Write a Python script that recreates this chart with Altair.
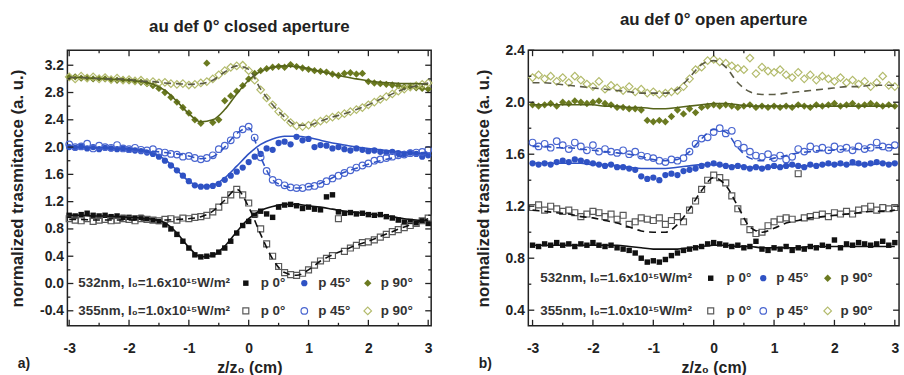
import altair as alt
import pandas as pd

FONT = "Liberation Sans"

# ---------------- data ----------------
X = [-3.0, -2.9, -2.8, -2.7, -2.6, -2.5, -2.4, -2.3, -2.2, -2.1, -2.0, -1.9, -1.8, -1.7, -1.6, -1.5,
     -1.4, -1.3, -1.2, -1.1, -1.0, -0.9, -0.8, -0.7, -0.6, -0.5, -0.4, -0.3, -0.2, -0.1, 0.0, 0.1,
     0.2, 0.3, 0.4, 0.5, 0.6, 0.7, 0.8, 0.9, 1.0, 1.1, 1.2, 1.3, 1.4, 1.5, 1.6, 1.7, 1.8, 1.9, 2.0,
     2.1, 2.2, 2.3, 2.4, 2.5, 2.6, 2.7, 2.8, 2.9, 3.0]
XF = [-3.0, -2.8, -2.6, -2.4, -2.2, -2.0, -1.8, -1.6, -1.4, -1.2, -1.0, -0.8, -0.6, -0.4, -0.2, 0.0,
      0.2, 0.4, 0.6, 0.8, 1.0, 1.2, 1.4, 1.6, 1.8, 2.0, 2.2, 2.4, 2.6, 2.8, 3.0]

# closed aperture (panel a)
CA_532_P0 = [1.00, 0.99, 1.01, 1.03, 1.00, 0.99, 1.00, 0.98, 0.99, 0.97, 0.97, 0.96, 0.97, 0.95, 0.93, 0.91,
             0.86, 0.80, 0.72, 0.62, 0.52, 0.42, 0.39, 0.40, 0.42, 0.46, 0.52, 0.62, 0.74, 0.85, 0.91, 1.00,
             1.06, 1.02, 0.97, 1.12, 1.15, 1.16, 1.14, 1.10, 1.12, 1.09, 1.08, 1.27, 1.30, 1.05, 1.03, 1.04,
             1.02, 1.03, 1.01, 1.00, 1.01, 0.98, 0.96, 0.93, 0.90, 0.91, 0.89, 0.92, 0.88]
CA_355_P0 = [0.95, 0.93, 0.92, 0.95, 0.91, 0.93, 0.94, 0.92, 0.93, 0.95, 0.94, 0.92, 0.95, 0.94, 0.93, 0.92,
             0.94, 0.95, 0.93, 0.96, 0.95, 0.97, 0.98, 1.00, 1.05, 1.12, 1.22, 1.30, 1.38, 1.30, 1.18, 1.02,
             0.80, 0.58, 0.40, 0.25, 0.16, 0.13, 0.12, 0.15, 0.20, 0.27, 0.33, 0.37, 0.41, 0.95, 0.47, 0.52,
             0.56, 0.60, 0.61, 0.64, 0.68, 0.72, 0.76, 0.79, 0.82, 0.85, 0.88, 0.92, 0.96]
CA_532_P45 = [2.00, 1.99, 2.01, 1.98, 2.00, 1.97, 1.99, 1.98, 1.97, 1.98, 1.96, 1.95, 1.94, 1.92, 1.90, 1.86,
              1.80, 1.73, 1.66, 1.58, 1.50, 1.44, 1.42, 1.42, 1.43, 1.46, 1.52, 1.58, 1.64, 1.70, 1.78, 1.86,
              1.90, 1.98, 1.96, 2.06, 2.08, 2.04, 2.15, 2.10, 2.12, 2.00, 2.03, 2.02, 1.98, 2.00, 1.97, 1.95,
              1.98, 1.96, 1.94, 1.95, 1.93, 1.92, 1.93, 1.91, 1.90, 1.92, 1.90, 1.86, 1.88]
CA_355_P45 = [2.04, 2.00, 2.01, 2.05, 1.98, 2.02, 2.00, 1.99, 2.03, 1.98, 1.97, 1.99, 1.96, 1.95, 1.97, 1.93,
              1.92, 1.90, 1.89, 1.86, 1.87, 1.84, 1.82, 1.84, 1.88, 1.97, 2.02, 2.10, 2.18, 2.26, 2.30, 2.14,
              1.85, 1.65, 1.52, 1.48, 1.44, 1.41, 1.40, 1.40, 1.42, 1.43, 1.46, 1.50, 1.54, 1.58, 1.62, 1.66,
              1.70, 1.73, 1.76, 1.80, 1.82, 1.84, 1.86, 1.88, 1.89, 1.91, 1.92, 1.93, 1.96]
CA_532_P90 = [3.02, 3.03, 3.01, 3.02, 3.00, 3.01, 3.00, 2.99, 2.98, 2.99, 2.97, 2.96, 2.95, 2.93, 2.90, 2.86,
              2.80, 2.73, 2.66, 2.58, 2.50, 2.40, 2.35, 3.23, 2.36, 2.40, 2.68, 2.75, 2.82, 2.90, 3.00, 3.08,
              3.12, 3.15, 3.17, 3.18, 3.17, 3.21, 3.18, 3.16, 3.14, 3.12, 3.11, 3.10, 3.07, 3.05, 3.08, 3.09,
              3.07, 3.08, 2.96, 2.94, 2.93, 2.92, 2.91, 2.90, 2.88, 2.89, 2.87, 2.86, 2.85]
CA_355_P90 = [3.03, 3.00, 3.04, 3.01, 3.03, 3.00, 3.02, 2.99, 3.01, 2.98, 2.99, 2.97, 2.98, 2.95, 2.96, 2.94,
              2.95, 2.93, 2.92, 2.93, 2.91, 2.92, 2.94, 2.96, 3.00, 3.06, 3.12, 3.17, 3.19, 3.20, 3.12, 2.98,
              2.84, 2.72, 2.62, 2.52, 2.44, 2.36, 2.31, 2.30, 2.32, 2.35, 2.38, 2.41, 2.44, 2.46, 2.49, 2.52,
              2.55, 2.58, 2.62, 2.66, 2.70, 2.74, 2.78, 2.82, 2.85, 2.88, 2.90, 2.92, 2.94]

CA_FIT_532_P0 = [1.00, 1.00, 0.99, 0.99, 0.98, 0.97, 0.96, 0.94, 0.89, 0.74, 0.53, 0.39, 0.41, 0.55, 0.76, 0.95,
                 1.07, 1.13, 1.16, 1.16, 1.14, 1.12, 1.09, 1.06, 1.04, 1.02, 1.00, 0.98, 0.95, 0.93, 0.92]
CA_FIT_355_P0 = [0.94, 0.94, 0.93, 0.93, 0.93, 0.93, 0.93, 0.93, 0.93, 0.94, 0.95, 0.98, 1.06, 1.22, 1.38, 1.12,
                 0.72, 0.36, 0.16, 0.12, 0.20, 0.33, 0.42, 0.49, 0.56, 0.62, 0.69, 0.76, 0.83, 0.89, 0.95]
CA_FIT_532_P45 = [2.00, 2.00, 1.99, 1.99, 1.98, 1.97, 1.95, 1.91, 1.82, 1.66, 1.50, 1.42, 1.44, 1.55, 1.72, 1.90,
                  2.04, 2.12, 2.16, 2.16, 2.14, 2.10, 2.06, 2.03, 2.00, 1.98, 1.96, 1.94, 1.92, 1.91, 1.90]
CA_FIT_355_P45 = [2.00, 2.00, 1.99, 1.99, 1.98, 1.97, 1.96, 1.94, 1.92, 1.90, 1.87, 1.83, 1.86, 2.00, 2.20, 2.28,
                  1.85, 1.52, 1.43, 1.40, 1.42, 1.47, 1.55, 1.63, 1.69, 1.75, 1.80, 1.84, 1.88, 1.91, 1.93]
CA_FIT_532_P90 = [3.02, 3.02, 3.01, 3.00, 2.99, 2.98, 2.96, 2.92, 2.83, 2.67, 2.49, 2.37, 2.40, 2.55, 2.78, 2.98,
                  3.11, 3.17, 3.19, 3.18, 3.15, 3.11, 3.07, 3.03, 3.00, 2.97, 2.95, 2.94, 2.93, 2.93, 2.92]
CA_FIT_355_P90 = [3.02, 3.02, 3.01, 3.00, 3.00, 2.99, 2.97, 2.96, 2.94, 2.93, 2.92, 2.93, 2.98, 3.10, 3.19, 3.14,
                  2.85, 2.62, 2.44, 2.32, 2.32, 2.38, 2.44, 2.49, 2.55, 2.62, 2.70, 2.78, 2.85, 2.90, 2.94]

# open aperture (panel b)
OA_532_P0 = [0.90, 0.89, 0.91, 0.90, 0.92, 0.90, 0.91, 0.89, 0.91, 0.90, 0.92, 0.90, 0.89, 0.90, 0.88, 0.87,
             0.86, 0.84, 0.80, 0.77, 0.78, 0.77, 0.79, 0.82, 0.84, 0.86, 0.87, 0.88, 0.89, 0.91, 0.92, 0.91,
             0.90, 0.89, 0.90, 0.88, 0.89, 0.93, 0.87, 0.86, 0.88, 0.87, 0.89, 0.86, 0.88, 0.87, 0.89, 0.88,
             0.90, 0.89, 0.94, 0.88, 0.91, 0.90, 0.92, 0.91, 0.90, 0.91, 0.93, 0.90, 0.92]
OA_355_P0 = [1.19, 1.21, 1.17, 1.20, 1.18, 1.16, 1.17, 1.15, 1.12, 1.14, 1.16, 1.15, 1.12, 1.14, 1.10, 1.13,
             1.06, 1.08, 1.11, 1.10, 1.09, 1.11, 1.06, 1.09, 1.12, 1.08, 1.17, 1.24, 1.33, 1.40, 1.44, 1.42,
             1.38, 1.28, 1.18, 1.08, 1.02, 0.99, 1.00, 1.05, 1.08, 1.10, 1.11, 1.10, 1.45, 1.11, 1.12, 1.13,
             1.14, 1.12, 1.15, 1.14, 1.16, 1.14, 1.17, 1.18, 1.20, 1.17, 1.19, 1.18, 1.19]
OA_532_P45 = [1.53, 1.52, 1.53, 1.52, 1.54, 1.55, 1.54, 1.56, 1.55, 1.54, 1.53, 1.52, 1.51, 1.52, 1.50, 1.50,
              1.49, 1.48, 1.43, 1.41, 1.42, 1.40, 1.44, 1.45, 1.44, 1.47, 1.48, 1.49, 1.51, 1.52, 1.53, 1.52,
              1.51, 1.50, 1.51, 1.50, 1.49, 1.50, 1.49, 1.50, 1.51, 1.50, 1.51, 1.52, 1.51, 1.50, 1.52, 1.51,
              1.52, 1.53, 1.52, 1.53, 1.52, 1.54, 1.53, 1.52, 1.53, 1.54, 1.53, 1.52, 1.53]
OA_355_P45 = [1.69, 1.66, 1.68, 1.65, 1.70, 1.67, 1.64, 1.69, 1.66, 1.63, 1.67, 1.62, 1.64, 1.62, 1.61, 1.63,
              1.60, 1.62, 1.59, 1.58, 1.57, 1.55, 1.54, 1.56, 1.55, 1.57, 1.62, 1.68, 1.72, 1.73, 1.77, 1.80,
              1.76, 1.78, 1.68, 1.65, 1.62, 1.59, 1.58, 1.60, 1.57, 1.59, 1.56, 1.58, 1.64, 1.62, 1.66, 1.64,
              1.65, 1.63, 1.66, 1.64, 1.65, 1.63, 1.66, 1.64, 1.65, 1.69, 1.66, 1.65, 1.67]
OA_532_P90 = [1.98, 1.97, 1.98, 1.99, 1.97, 2.00, 1.99, 2.01, 2.00, 1.99, 2.00, 2.01, 1.99, 1.98, 1.96, 1.96,
              1.95, 1.95, 1.94, 1.86, 1.85, 1.86, 1.85, 1.89, 1.94, 1.91, 1.95, 1.92, 1.96, 1.97, 1.98, 1.97,
              1.98, 1.97, 1.96, 1.97, 1.98, 1.96, 1.97, 1.96, 1.97, 1.96, 1.97, 1.96, 1.98, 1.97, 1.96, 1.98,
              1.97, 1.98, 1.99, 1.97, 1.98, 1.99, 1.97, 1.98, 1.99, 1.98, 1.97, 1.98, 1.97]
OA_355_P90 = [2.19, 2.21, 2.18, 2.20, 2.16, 2.19, 2.15, 2.20, 2.17, 2.14, 2.12, 2.16, 2.10, 2.13, 2.11, 2.09,
              2.12, 2.08, 2.10, 2.07, 2.08, 2.06, 2.07, 2.08, 2.09, 2.12, 2.18, 2.25, 2.27, 2.32, 2.33, 2.31,
              2.30, 2.28, 2.26, 2.25, 2.34, 2.22, 2.27, 2.24, 2.23, 2.25, 2.21, 2.19, 2.23, 2.18, 2.21, 2.17,
              2.20, 2.18, 2.16, 2.19, 2.15, 2.17, 2.14, 2.16, 2.12, 2.15, 2.20, 2.13, 2.12]

OA_FIT_532_P0 = [0.90, 0.90, 0.90, 0.90, 0.90, 0.90, 0.90, 0.90, 0.89, 0.88, 0.87, 0.87, 0.87, 0.88, 0.89, 0.90,
                 0.90, 0.89, 0.89, 0.88, 0.88, 0.88, 0.88, 0.89, 0.89, 0.89, 0.89, 0.89, 0.89, 0.89, 0.89]
OA_FIT_355_P0 = [1.17, 1.16, 1.15, 1.14, 1.12, 1.11, 1.09, 1.07, 1.04, 1.01, 1.00, 1.00, 1.06, 1.18, 1.32, 1.42,
                 1.36, 1.20, 1.04, 1.00, 1.03, 1.07, 1.09, 1.11, 1.12, 1.13, 1.14, 1.15, 1.16, 1.16, 1.17]
OA_FIT_532_P45 = [1.53, 1.53, 1.53, 1.53, 1.53, 1.52, 1.52, 1.51, 1.50, 1.49, 1.49, 1.49, 1.50, 1.51, 1.52, 1.52,
                  1.51, 1.51, 1.50, 1.50, 1.50, 1.51, 1.51, 1.51, 1.52, 1.52, 1.52, 1.52, 1.52, 1.53, 1.53]
OA_FIT_355_P45 = [1.66, 1.66, 1.65, 1.65, 1.64, 1.63, 1.62, 1.61, 1.60, 1.58, 1.56, 1.55, 1.56, 1.62, 1.72, 1.79,
                  1.77, 1.65, 1.57, 1.55, 1.57, 1.59, 1.61, 1.62, 1.63, 1.63, 1.64, 1.64, 1.65, 1.65, 1.65]
OA_FIT_532_P90 = [1.98, 1.98, 1.98, 1.98, 1.98, 1.98, 1.97, 1.97, 1.96, 1.96, 1.95, 1.95, 1.96, 1.97, 1.98, 1.99,
                  1.99, 1.98, 1.97, 1.97, 1.97, 1.97, 1.97, 1.97, 1.97, 1.97, 1.97, 1.97, 1.97, 1.97, 1.97]
OA_FIT_355_P90 = [2.15, 2.15, 2.14, 2.13, 2.12, 2.11, 2.10, 2.09, 2.08, 2.07, 2.07, 2.07, 2.10, 2.19, 2.29, 2.32,
                  2.27, 2.15, 2.08, 2.06, 2.06, 2.07, 2.08, 2.09, 2.10, 2.11, 2.12, 2.12, 2.13, 2.13, 2.13]

X_TICKS = [-3, -2, -1, 0, 1, 2, 3]
X_MINOR = [-2.5, -1.5, -0.5, 0.5, 1.5, 2.5]
CA_Y_TICKS = [-0.4, 0.0, 0.4, 0.8, 1.2, 1.6, 2.0, 2.4, 2.8, 3.2]
CA_Y_MINOR = [-0.2, 0.2, 0.6, 1.0, 1.4, 1.8, 2.2, 2.6, 3.0]
OA_Y_TICKS = [0.4, 0.8, 1.2, 1.6, 2.0, 2.4]
OA_Y_MINOR = [0.6, 1.0, 1.4, 1.8, 2.2]

TITLES = ["au def 0° closed aperture", "au def 0° open aperture"]
PANEL_TAGS = ["a)", "b)"]
ROW_LABELS = ["532nm, I\u2080=1.6x10\u00b9\u2075W/m\u00b2", "355nm, I\u2080=1.0x10\u00b9\u2075W/m\u00b2"]
ENTRY_LABELS = ["p 0°", "p 45°", "p 90°"]
X_TITLE = "z/z\u2080 (cm)"
Y_TITLE = "normalized trasmitance (a. u.)"

# ---------------- styles ----------------
BLACK = "#111111"
GRAY = "#5a5a5a"
BLUE = "#2f52c4"
BLUE_O = "#4a66d0"
OLIVE = "#6b7a20"
OLIVE_O = "#b3bb6c"
OLIVE_FIT = "#56641a"
OLIVE_DASH = "#5b5b45"

MARK_STYLE = {
    "532_p0": ("square", True, BLACK, 30),
    "355_p0": ("square", False, GRAY, 36),
    "532_p45": ("circle", True, BLUE, 40),
    "355_p45": ("circle", False, BLUE_O, 44),
    "532_p90": ("diamond", True, OLIVE, 55),
    "355_p90": ("diamond", False, OLIVE_O, 58),
}
FIT_STYLE = {
    "532_p0": (BLACK, False), "355_p0": (BLACK, True),
    "532_p45": (BLUE, False), "355_p45": (BLUE, True),
    "532_p90": (OLIVE_FIT, False), "355_p90": (OLIVE_DASH, True),
}
ORDER = ["532_p0", "532_p45", "532_p90", "355_p0", "355_p45", "355_p90"]


def neg_hyphen(fmt):
    return ("datum.value < 0 ? '-' + format(-datum.value, '%s') : format(datum.value, '%s')" % (fmt, fmt))


def panel(series, fits, xdom, ydom, yticks, yminor, W, H, title, tag, leg):
    xs = alt.Scale(domain=xdom, nice=False, zero=False)
    ys = alt.Scale(domain=ydom, nice=False, zero=False)
    xaxis = alt.Axis(values=X_TICKS, labelExpr=neg_hyphen("d"), ticks=False, domain=False, grid=False,
                     labelPadding=16, title=X_TITLE, titlePadding=4, titleFontSize=16)
    yaxis = alt.Axis(values=yticks, labelExpr=neg_hyphen(".1f"), ticks=False, domain=False, grid=False,
                     labelPadding=4, title=Y_TITLE, titlePadding=13, titleFontSize=17)
    XE = alt.X("x:Q", scale=xs, axis=xaxis)
    YE = alt.Y("y:Q", scale=ys, axis=yaxis)
    layers = []
    for key in ORDER:
        shape, filled, color, size = MARK_STYLE[key]
        df = pd.DataFrame({"x": X, "y": series[key]})
        m = alt.Chart(df).mark_point(shape=shape, filled=filled, color=color, size=size,
                                     opacity=1, strokeWidth=1.2)
        layers.append(m.encode(x=XE, y=YE))
    for key in ORDER:
        color, dashed = FIT_STYLE[key]
        df = pd.DataFrame({"x": XF, "y": fits[key]})
        kw = dict(color=color, strokeWidth=1.6, interpolate="monotone")
        if dashed:
            kw["strokeDash"] = [7, 5]
        layers.append(alt.Chart(df).mark_line(**kw).encode(x=XE, y=YE))
    # inward ticks on all four sides
    for vals, ln in ((X_TICKS, 6), (X_MINOR, 3)):
        r = alt.Chart(pd.DataFrame({"x": vals})).mark_rule(color="#222", strokeWidth=1.3)
        layers.append(r.encode(x=XE, y=alt.value(H), y2=alt.value(H - ln)))
        layers.append(r.encode(x=XE, y=alt.value(0), y2=alt.value(ln)))
    for vals, ln in ((yticks, 6), (yminor, 3)):
        r = alt.Chart(pd.DataFrame({"y": vals})).mark_rule(color="#222", strokeWidth=1.3)
        layers.append(r.encode(y=YE, x=alt.value(0), x2=alt.value(ln)))
        layers.append(r.encode(y=YE, x=alt.value(W), x2=alt.value(W - ln)))
    # legend
    tx = dict(align="left", baseline="middle", font=FONT, fontWeight="bold", fontSize=13.5, color="#333")
    row_y = leg["rows"]
    for ri, lab in enumerate(ROW_LABELS):
        layers.append(alt.Chart(pd.DataFrame({"s": [lab]})).mark_text(**tx).encode(
            x=alt.value(leg["x0"]), y=alt.value(row_y[ri]), text="s:N"))
        for ci, key in enumerate(ORDER[ri * 3:(ri + 1) * 3]):
            shape, filled, color, size = MARK_STYLE[key]
            layers.append(alt.Chart(pd.DataFrame({"s": [key]})).mark_point(
                shape=shape, filled=filled, color=color, size=size, opacity=1, strokeWidth=1.2).encode(
                x=alt.value(leg["sym"][ci]), y=alt.value(row_y[ri])))
            layers.append(alt.Chart(pd.DataFrame({"s": [ENTRY_LABELS[ci]]})).mark_text(**tx).encode(
                x=alt.value(leg["lab"][ci]), y=alt.value(row_y[ri]), text="s:N"))
    layers.append(alt.Chart(pd.DataFrame({"s": [tag]})).mark_text(
        align="left", baseline="middle", font=FONT, fontWeight="bold", fontSize=14, color="#222").encode(
        x=alt.value(-50), y=alt.value(H + 39), text="s:N"))
    return alt.layer(*layers).properties(
        width=W, height=H,
        title=alt.TitleParams(text=title, font=FONT, fontSize=17, fontWeight="bold", color="#222",
                              offset=14, anchor="middle"))


H = 278
left = panel(
    {"532_p0": CA_532_P0, "355_p0": CA_355_P0, "532_p45": CA_532_P45, "355_p45": CA_355_P45,
     "532_p90": CA_532_P90, "355_p90": CA_355_P90},
    {"532_p0": CA_FIT_532_P0, "355_p0": CA_FIT_355_P0, "532_p45": CA_FIT_532_P45,
     "355_p45": CA_FIT_355_P45, "532_p90": CA_FIT_532_P90, "355_p90": CA_FIT_355_P90},
    [-3.03, 3.05], [-0.62, 3.42], CA_Y_TICKS, CA_Y_MINOR, 367, H, TITLES[0], PANEL_TAGS[0],
    {"rows": [235, 263], "x0": 11, "sym": [180, 239, 303], "lab": [195, 253, 316]})
right = panel(
    {"532_p0": OA_532_P0, "355_p0": OA_355_P0, "532_p45": OA_532_P45, "355_p45": OA_355_P45,
     "532_p90": OA_532_P90, "355_p90": OA_355_P90},
    {"532_p0": OA_FIT_532_P0, "355_p0": OA_FIT_355_P0, "532_p45": OA_FIT_532_P45,
     "355_p45": OA_FIT_355_P45, "532_p90": OA_FIT_532_P90, "355_p90": OA_FIT_355_P90},
    [-3.07, 3.07], [0.28, 2.4], OA_Y_TICKS, OA_Y_MINOR, 374, H, TITLES[1], PANEL_TAGS[1],
    {"rows": [230, 263], "x0": 12, "sym": [184, 237, 302], "lab": [200, 250, 315]})

chart = alt.hconcat(left, right, spacing=38).properties(
    padding={"left": 8, "top": 9, "right": 2, "bottom": 0},
    background="white",
).configure_view(stroke="#222", strokeWidth=1.5).configure_axis(
    labelFont=FONT, labelFontSize=14, labelFontWeight="bold", labelColor="#222",
    titleFont=FONT, titleFontWeight="bold", titleColor="#222")

chart.save("out.html", embed_options={"renderer": "svg", "actions": False})
